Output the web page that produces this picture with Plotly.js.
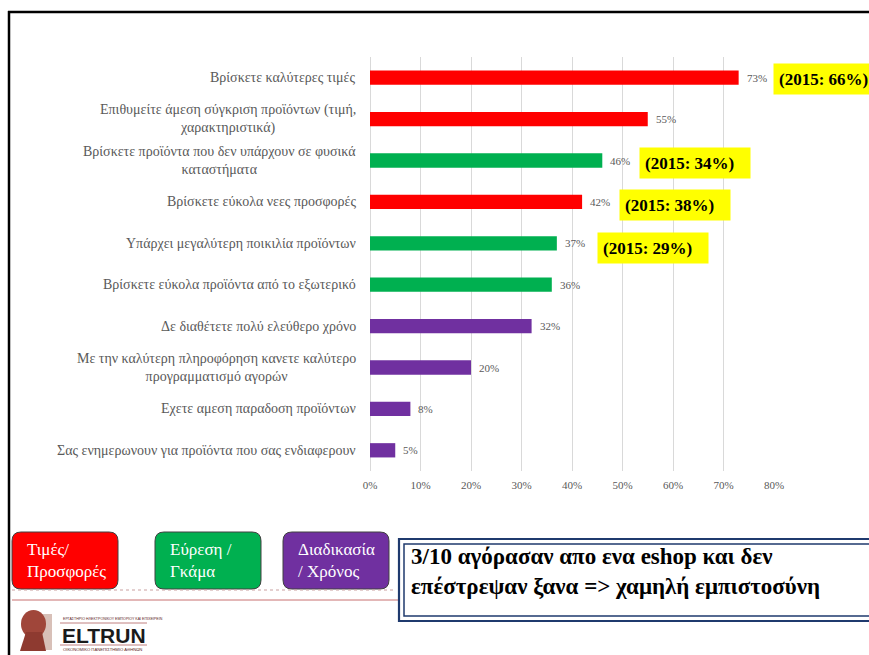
<!DOCTYPE html>
<html>
<head>
<meta charset="utf-8">
<script src="https://cdn.plot.ly/plotly-3.0.1.min.js"></script>
<style>html,body{margin:0;padding:0;background:#fff;}#chart{width:869px;height:655px;}</style>
</head>
<body>
<div id="chart"></div>
<script>
// ---- data ----
const categories = [
  "Βρίσκετε καλύτερες τιμές",
  "Επιθυμείτε άμεση σύγκριση προϊόντων (τιμή,<br>χαρακτηριστικά)",
  "Βρίσκετε προϊόντα που δεν υπάρχουν σε φυσικά<br>καταστήματα",
  "Βρίσκετε εύκολα νεες προσφορές",
  "Υπάρχει μεγαλύτερη ποικιλία προϊόντων",
  "Βρίσκετε εύκολα προϊόντα από το εξωτερικό",
  "Δε διαθέτετε πολύ ελεύθερο χρόνο",
  "Με την καλύτερη πληροφόρηση κανετε καλύτερο<br>προγραμματισμό αγορών",
  "Εχετε αμεση παραδοση προϊόντων",
  "Σας ενημερωνουν για προϊόντα που σας ενδιαφερουν"
];
const values = [73, 55, 46, 42, 37, 36, 32, 20, 8, 5];
const groups = ["price", "price", "range", "price", "range", "range", "process", "process", "process", "process"];
const groupNames = ["Τιμές/<br>Προσφορές", "Εύρεση /<br>Γκάμα", "Διαδικασία<br>/ Χρόνος"];
const groupKeys = ["price", "range", "process"];
const prevIndex = [0, 2, 3, 4];
const prevValues = [66, 34, 38, 29];
const tickVals = [0, 10, 20, 30, 40, 50, 60, 70, 80];
const tickText = ["0%", "10%", "20%", "30%", "40%", "50%", "60%", "70%", "80%"];
const noteText = "3/10 αγόρασαν απο ενα eshop και δεν<br>επέστρεψαν ξανα => χαμηλή εμπιστοσύνη";

// ---- styles ----
const colors = {price: "#FF0000", range: "#00B050", process: "#7030A0"};
const serif = "'Liberation Serif', 'Times New Roman', serif";
const sans = "'Liberation Sans', Arial, sans-serif";
const grey = "#595959";
const L = 370, R = 774, T = 57, B = 471;
const px = x => (x - L) / (R - L);
const py = y => (B - y) / (B - T);
function rr(x0, y0, x1, y1, r) {
  const P = (x, y) => px(x) + "," + py(y);
  return "M" + P(x0 + r, y0) + " L" + P(x1 - r, y0) + " Q" + P(x1, y0) + " " + P(x1, y0 + r) +
    " L" + P(x1, y1 - r) + " Q" + P(x1, y1) + " " + P(x1 - r, y1) +
    " L" + P(x0 + r, y1) + " Q" + P(x0, y1) + " " + P(x0, y1 - r) +
    " L" + P(x0, y0 + r) + " Q" + P(x0, y0) + " " + P(x0 + r, y0) + " Z";
}

const trace = {
  type: "bar",
  orientation: "h",
  x: values,
  y: categories,
  marker: {color: groups.map(g => colors[g])},
  hoverinfo: "none"
};

const annotations = [];
// category labels
categories.forEach(c => annotations.push({
  xref: "paper", yref: "y", x: 0, y: c, xanchor: "right", yanchor: "middle",
  xshift: -12, text: c, showarrow: false, align: "center",
  font: {family: serif, size: 14, color: grey}
}));
// value labels
values.forEach((v, i) => annotations.push({
  xref: "x", yref: "y", x: v, y: categories[i], xanchor: "left", yanchor: "middle",
  xshift: 6, text: v + "%", showarrow: false,
  font: {family: serif, size: 11, color: grey}
}));
// 2015 boxes
const boxShiftX = [34, 37, 37, 40];
const boxShiftY = [-1, -2, -3, -5];
prevIndex.forEach((idx, k) => annotations.push({
  xref: "x", yref: "y", x: values[idx], y: categories[idx], xanchor: "left", yanchor: "middle",
  xshift: boxShiftX[k], yshift: boxShiftY[k], text: "(2015: " + prevValues[k] + "%)", showarrow: false,
  bgcolor: "#FFFF00", borderpad: 5, width: 100, height: 20, align: "left",
  font: {family: serif, size: 17, color: "#000", weight: "bold"}
}));
// legend boxes text
const legendX = [12, 155, 283];
groupKeys.forEach((g, i) => annotations.push({
  xref: "paper", yref: "paper", x: px(legendX[i] + 13), y: py(560), xanchor: "left", yanchor: "middle",
  text: groupNames[i], showarrow: false, align: "left",
  font: {family: serif, size: 17, color: "#FFFFFF"}
}));
// note text
annotations.push({
  xref: "paper", yref: "paper", x: px(409), y: py(571), xanchor: "left", yanchor: "middle",
  text: noteText, showarrow: false, align: "left",
  font: {family: serif, size: 23, color: "#000", weight: "bold"}
});
// logo text
annotations.push({xref: "paper", yref: "paper", x: px(60), y: py(635), xanchor: "left", yanchor: "middle",
  text: "ELTRUN", showarrow: false, font: {family: sans, size: 21, color: "#1a1a1a", weight: "bold"}});
annotations.push({xref: "paper", yref: "paper", x: px(61), y: py(619), xanchor: "left", yanchor: "middle",
  text: "ΕΡΓΑΣΤΗΡΙΟ ΗΛΕΚΤΡΟΝΙΚΟΥ ΕΜΠΟΡΙΟΥ ΚΑΙ ΕΠΙΧΕΙΡΕΙΝ", showarrow: false,
  font: {family: sans, size: 3.6, color: "#5a1a1a"}});
annotations.push({xref: "paper", yref: "paper", x: px(61), y: py(649), xanchor: "left", yanchor: "middle",
  text: "ΟΙΚΟΝΟΜΙΚΟ ΠΑΝΕΠΙΣΤΗΜΙΟ ΑΘΗΝΩΝ", showarrow: false,
  font: {family: sans, size: 4.2, color: "#5a1a1a"}});

const shapes = [];
// frame
shapes.push({type: "line", xref: "paper", yref: "paper", x0: px(8), x1: px(875), y0: py(12), y1: py(12), line: {color: "#000", width: 2.5}});
shapes.push({type: "line", xref: "paper", yref: "paper", x0: px(9), x1: px(9), y0: py(11), y1: py(660), line: {color: "#000", width: 2.5}});
// legend boxes
groupKeys.forEach((g, i) => shapes.push({
  type: "path", xref: "paper", yref: "paper",
  path: rr(legendX[i], 532, legendX[i] + 106, 589, 9),
  fillcolor: colors[g], line: {color: "#404040", width: 1}
}));
// separators
shapes.push({type: "line", xref: "paper", yref: "paper", x0: px(12), x1: px(396), y0: py(590), y1: py(590), line: {color: "#C9A0A0", width: 1, dash: "dot"}});
shapes.push({type: "line", xref: "paper", yref: "paper", x0: px(12), x1: px(400), y0: py(600), y1: py(600), line: {color: "#C87070", width: 1}});
// note box (double border)
shapes.push({type: "rect", xref: "paper", yref: "paper", x0: px(399), x1: px(885), y0: py(539), y1: py(621), line: {color: "#1F3A6E", width: 2.2}, fillcolor: "#FFFFFF"});
shapes.push({type: "rect", xref: "paper", yref: "paper", x0: px(404), x1: px(885), y0: py(544), y1: py(616), line: {color: "#1F3A6E", width: 1.5}});
// logo lines
shapes.push({type: "line", xref: "paper", yref: "paper", x0: px(60), x1: px(147), y0: py(623), y1: py(623), line: {color: "#B06060", width: 0.8}});
shapes.push({type: "line", xref: "paper", yref: "paper", x0: px(60), x1: px(147), y0: py(645), y1: py(645), line: {color: "#B06060", width: 0.8}});
// logo head
shapes.push({type: "rect", xref: "paper", yref: "paper", x0: px(40), x1: px(52), y0: py(614), y1: py(650), fillcolor: "#D8C0B8", line: {width: 0}});
shapes.push({type: "circle", xref: "paper", yref: "paper", x0: px(21), x1: px(46), y0: py(610), y1: py(638), fillcolor: "#A0463A", line: {width: 0}});
shapes.push({type: "path", xref: "paper", yref: "paper",
  path: "M" + px(26) + "," + py(632) + " L" + px(42) + "," + py(632) + " L" + px(46) + "," + py(651) + " L" + px(20) + "," + py(651) + " Z",
  fillcolor: "#8E3A30", line: {width: 0}});

const layout = {
  width: 869, height: 655,
  margin: {l: L, r: 869 - R, t: T, b: 655 - B, pad: 0},
  paper_bgcolor: "#FFFFFF", plot_bgcolor: "#FFFFFF",
  showlegend: false,
  bargap: 0.655,
  xaxis: {
    range: [0, 80], tickvals: tickVals, ticktext: tickText, showgrid: true,
    gridcolor: "#D9D9D9", gridwidth: 1, zeroline: true, zerolinecolor: "#D9D9D9", zerolinewidth: 1,
    showline: false, ticks: "", fixedrange: true, ticklabelstandoff: 6,
    tickfont: {family: serif, size: 11, color: grey}
  },
  yaxis: {
    type: "category", categoryorder: "array", categoryarray: categories, autorange: "reversed",
    showticklabels: false, showgrid: false, zeroline: false, showline: false, ticks: "", fixedrange: true
  },
  annotations: annotations,
  shapes: shapes
};

Plotly.newPlot("chart", [trace], layout, {displayModeBar: false, staticPlot: true});
</script>
</body>
</html>
